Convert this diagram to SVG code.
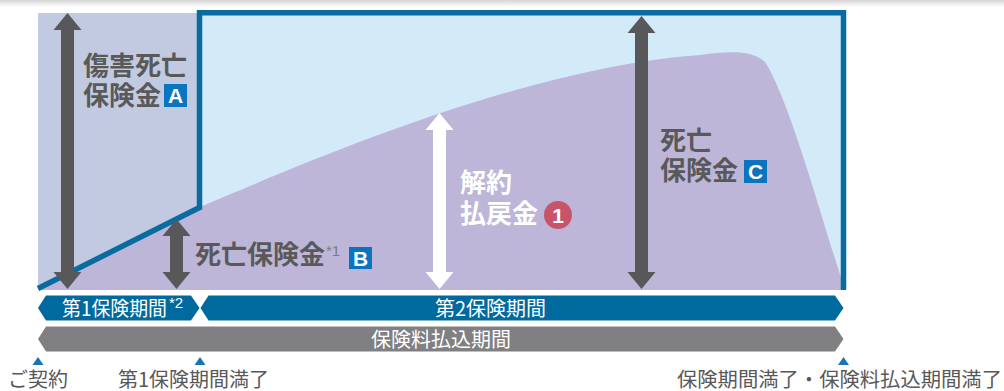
<svg xmlns="http://www.w3.org/2000/svg" width="1004" height="391" viewBox="0 0 1004 391">
<defs>
<linearGradient id="shadow" x1="0" y1="0" x2="0" y2="1">
<stop offset="0" stop-color="#d6d6d6"/>
<stop offset="1" stop-color="#ffffff"/>
</linearGradient>
<style>
.jp{font-family:"Noto Sans CJK JP","Noto Sans",sans-serif;}
.big{font-size:26px;font-weight:bold;fill:#595959;}
.wbig{font-size:26px;font-weight:bold;fill:#ffffff;}
.band{font-size:20px;fill:#ffffff;}
.lbl{font-size:20px;fill:#595757;}
.darr{fill:#58585a;}
.warr{fill:#ffffff;}
.box{fill:#0a74bf;}
.boxt{font-family:"Liberation Sans",Arial,sans-serif;font-weight:bold;font-size:21px;fill:#ffffff;text-anchor:middle;}
.sup{font-family:"Liberation Sans",Arial,sans-serif;font-size:15px;}
.tri{fill:#1a74b0;}
</style>
</defs>
<rect x="0" y="0" width="1004" height="391" fill="#ffffff"/>
<rect x="0" y="0" width="1004" height="7" fill="url(#shadow)"/>

<g id="chart-bg">
<rect x="38" y="13" width="162" height="277" fill="#c2cae2"/>
<rect x="200" y="12" width="644" height="278" fill="#d3ebf8"/>
<path d="M38,289 L200,207 C300,165 520,68 700,55 C730,51 752,50 765,62 C790,100 825,230 843.5,285 L843.5,290 L38,290 Z" fill="#bdb6d8"/>
<polyline points="38,288.5 199.5,207.5 199.5,12.8 843.5,12.8 843.5,290" fill="none" stroke="#0a6ba0" stroke-width="5.5" stroke-linejoin="miter"/>
</g>

<g id="connectors">
<path class="darr" d="M67.5,13 L81.5,30 L74,30 L74,272 L81.5,272 L67.5,289 L53.5,272 L61,272 L61,30 L53.5,30 Z"/>
<path class="darr" d="M176.5,219 L190.5,236 L183,236 L183,272 L190.5,272 L176.5,289 L162.5,272 L170,272 L170,236 L162.5,236 Z"/>
<path class="warr" d="M439.5,113 L453.5,130 L446,130 L446,272 L453.5,272 L439.5,289 L425.5,272 L433,272 L433,130 L425.5,130 Z"/>
<path class="darr" d="M641.5,16 L655.5,33 L648,33 L648,272 L655.5,272 L641.5,289 L627.5,272 L635,272 L635,33 L627.5,33 Z"/>
</g>

<g id="node-A">
<text class="jp big" x="83" y="74.5">傷害死亡</text>
<text class="jp big" x="83" y="104.5">保険金</text>
<rect class="box" x="164" y="84" width="23" height="23"/>
<text class="boxt" x="175.5" y="103">A</text>
</g>

<g id="node-B">
<text class="jp big" x="195" y="263.5">死亡保険金</text>
<text class="sup" x="326" y="256" fill="#7d7d7d">*1</text>
<rect class="box" x="349" y="247" width="23" height="22"/>
<text class="boxt" x="360.5" y="265.5">B</text>
</g>

<g id="node-1">
<text class="jp wbig" x="460" y="191.5">解約</text>
<text class="jp wbig" x="460" y="222.5">払戻金</text>
<circle cx="558" cy="215" r="14" fill="#c8546a"/>
<text class="boxt" x="558" y="222.5" font-size="20">1</text>
</g>

<g id="node-C">
<text class="jp big" x="660" y="150">死亡</text>
<text class="jp big" x="660" y="179.5">保険金</text>
<rect class="box" x="744" y="160" width="23" height="23"/>
<text class="boxt" x="755.5" y="179">C</text>
</g>

<g id="band-1">
<path d="M38,308 L46,295.5 L191,295.5 L199.5,308 L191,320.5 L46,320.5 Z" fill="#006a9f"/>
<text class="jp band" x="62" y="315.5" textLength="105" lengthAdjust="spacingAndGlyphs">第1保険期間</text>
<text class="sup" x="169" y="308" fill="#ffffff">*2</text>
</g>

<g id="band-2">
<path d="M200.5,308 L208.5,295.5 L835,295.5 L843.5,308 L835,320.5 L208.5,320.5 Z" fill="#006a9f"/>
<text class="jp band" x="435" y="315.5">第2保険期間</text>
</g>

<g id="band-pay">
<path d="M38,339 L46,326.5 L835,326.5 L843.5,339 L835,351.5 L46,351.5 Z" fill="#808083"/>
<text class="jp band" x="441" y="346.5" text-anchor="middle">保険料払込期間</text>
</g>

<g id="timeline">
<path class="tri" d="M38,357 L43.5,365 L32.5,365 Z"/>
<path class="tri" d="M200,357 L205.5,365 L194.5,365 Z"/>
<path class="tri" d="M843.5,357 L849,365 L838,365 Z"/>
<text class="jp lbl" x="8" y="387">ご契約</text>
<text class="jp lbl" x="118" y="387">第1保険期間満了</text>
<text class="jp lbl" x="677" y="387" textLength="325" lengthAdjust="spacingAndGlyphs">保険期間満了・保険料払込期間満了</text>
</g>
</svg>
